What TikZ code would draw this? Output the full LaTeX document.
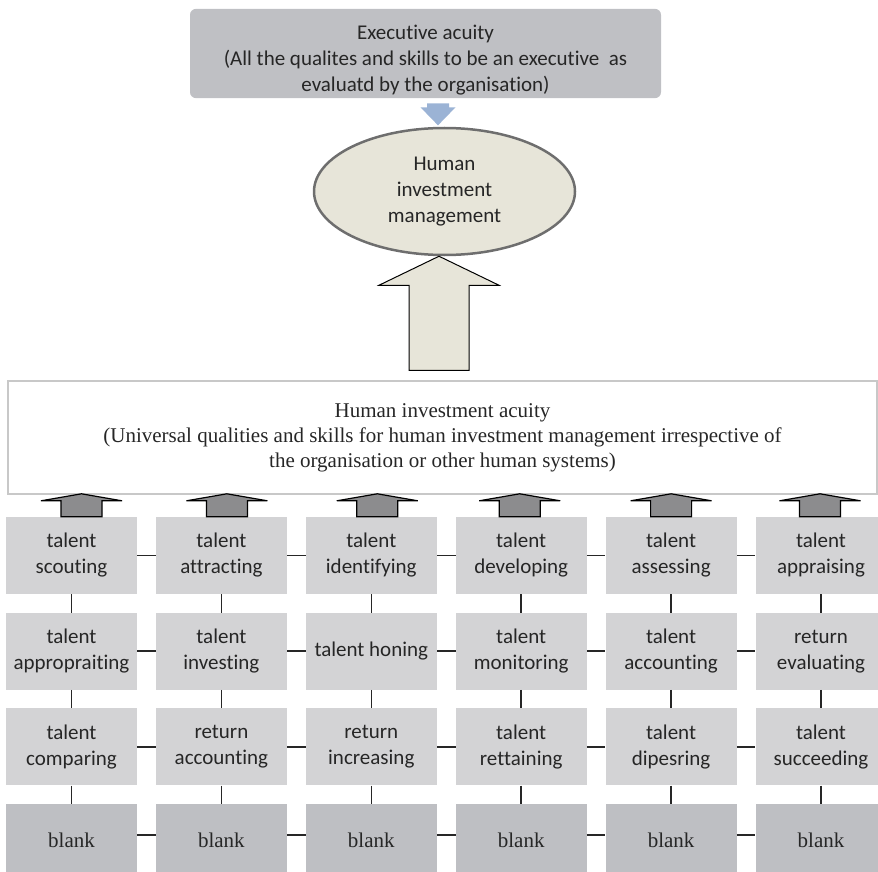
\documentclass[tikz,border=0pt]{standalone}
\usepackage{fontspec}
\setmainfont{Carlito}[Ligatures=NoCommon]
\newfontfamily\timesfont{Liberation Serif}
\usetikzlibrary{positioning,shapes.geometric}

\definecolor{execgray}{RGB}{191,192,196}
\definecolor{inkgray}{RGB}{38,38,38}
\definecolor{beige}{RGB}{231,229,217}
\definecolor{rimgray}{RGB}{110,110,110}
\definecolor{boxgray}{RGB}{211,211,213}
\definecolor{blankgray}{RGB}{190,191,195}
\definecolor{arrgray}{RGB}{140,140,142}
\definecolor{framegray}{RGB}{200,200,200}
\definecolor{steelblue}{RGB}{155,179,213}

\begin{document}
\begin{tikzpicture}[x=1pt, y=-1pt, node distance=18.3pt and 18.5pt, font=\fontsize{21}{26}\selectfont]
    \tikzset{
      exec/.style = {rectangle, rounded corners=6pt, minimum width=471pt, minimum height=89pt, align=center, fill=execgray, text=inkgray},
      mgmt/.style = {ellipse, minimum width=261pt, minimum height=127pt, inner sep=0pt, align=center, fill=beige, draw=rimgray, line width=2.5pt, text=inkgray},
      acuity/.style = {rectangle, minimum width=869pt, minimum height=113pt, align=center, draw=framegray, line width=1.2pt, text=inkgray, font=\timesfont\fontsize{21}{25}\selectfont},
      talent/.style = {rectangle, minimum width=131pt, minimum height=77pt, inner sep=2pt, align=center, fill=boxgray, text=inkgray},
      blankbox/.style = {rectangle, minimum width=131pt, minimum height=72pt, align=center, fill=blankgray, text=inkgray, font=\timesfont\fontsize{21}{26}\selectfont},
      link/.style = {draw=inkgray, line width=1.6pt},
      uparr/.pic = {\draw[fill=arrgray, draw=black, line width=1.2pt] (-20.5,0) -- (-20.5,-16) -- (-40.5,-16) -- (0,-23) -- (40.5,-16) -- (20.5,-16) -- (20.5,0) -- cycle;},
      downarr/.pic = {\fill[steelblue] (-11,5) -- (11,5) -- (11,9) -- (17.5,9) -- (0,27) -- (-17.5,9) -- (-11,9) -- cycle;},
      bigarr/.pic = {\draw[fill=beige, draw=black, line width=1pt] (0,0) -- (60,29) -- (30,29) -- (30,114) -- (-30,114) -- (-30,29) -- (-60,29) -- cycle;}
    }
    \useasboundingbox (0,0) rectangle (878,872);

    \node (exec) [exec] at (425.5,53.5) {\rule{0pt}{27pt}Executive acuity\\(All the qualites and skills to be an executive \ as\\evaluatd by the organisation)};
    \node (him) [mgmt] at (444.5,191.5) {Human\\investment\\management};
    \node (hia) [acuity] at (442.5,437.5) {Human investment acuity\\(Universal qualities and skills for human investment management irrespective of\\the organisation or other human systems)};

    % first row
    \node (scouting) [talent] at (71.5,555.5) {talent\\scouting};
    \node (attracting) [talent, right=of scouting] {talent\\attracting};
    \node (identifying) [talent, right=of attracting] {talent\\identifying};
    \node (developing) [talent, right=of identifying] {talent\\developing};
    \node (assessing) [talent, right=of developing] {talent\\assessing};
    \node (appraising) [talent, right=of assessing] {talent\\appraising};
    % second row
    \node (appropraiting) [talent, below=of scouting] {talent\\appropraiting};
    \node (investing) [talent, below=of attracting] {talent\\investing};
    \node (honing) [talent, below=of identifying] {talent honing};
    \node (monitoring) [talent, below=of developing] {talent\\monitoring};
    \node (accounting) [talent, below=of assessing] {talent\\accounting};
    \node (evaluating) [talent, below=of appraising] {return\\evaluating};
    % third row
    \node (comparing) [talent, below=of appropraiting] {talent\\comparing};
    \node (ret_accounting) [talent, below=of investing] {return\\accounting};
    \node (increasing) [talent, below=of honing] {return\\increasing};
    \node (rettaining) [talent, below=of monitoring] {talent\\rettaining};
    \node (dipesring) [talent, below=of accounting] {talent\\dipesring};
    \node (succeeding) [talent, below=of evaluating] {talent\\succeeding};
    % blank row
    \node (blank1) [blankbox, below=of comparing] {blank};
    \node (blank2) [blankbox, below=of ret_accounting] {blank};
    \node (blank3) [blankbox, below=of increasing] {blank};
    \node (blank4) [blankbox, below=of rettaining] {blank};
    \node (blank5) [blankbox, below=of dipesring] {blank};
    \node (blank6) [blankbox, below=of succeeding] {blank};

    \pic at ([xshift=12.5pt]exec.south) {downarr};
    \pic at ([xshift=-5.5pt]him.south) {bigarr};
    \pic at ([xshift=10pt]scouting.north) {uparr};
    \pic at ([xshift=5.5pt]attracting.north) {uparr};
    \pic at ([xshift=6pt]identifying.north) {uparr};
    \pic at ([xshift=-1.5pt]developing.north) {uparr};
    \pic at (assessing.north) {uparr};
    \pic at ([xshift=-1pt]appraising.north) {uparr};

    \draw [link] (scouting) -- (attracting);
    \draw [link] (attracting) -- (identifying);
    \draw [link] (identifying) -- (developing);
    \draw [link] (developing) -- (assessing);
    \draw [link] (assessing) -- (appraising);
    \draw [link] (appropraiting) -- (investing);
    \draw [link] (investing) -- (honing);
    \draw [link] (honing) -- (monitoring);
    \draw [link] (monitoring) -- (accounting);
    \draw [link] (accounting) -- (evaluating);
    \draw [link] (comparing) -- (ret_accounting);
    \draw [link] (ret_accounting) -- (increasing);
    \draw [link] (increasing) -- (rettaining);
    \draw [link] (rettaining) -- (dipesring);
    \draw [link] (dipesring) -- (succeeding);
    \draw [link] ([yshift=5pt]blank1.east) -- ([yshift=5pt]blank2.west);
    \draw [link] ([yshift=5pt]blank2.east) -- ([yshift=5pt]blank3.west);
    \draw [link] ([yshift=5pt]blank3.east) -- ([yshift=5pt]blank4.west);
    \draw [link] ([yshift=5pt]blank4.east) -- ([yshift=5pt]blank5.west);
    \draw [link] ([yshift=5pt]blank5.east) -- ([yshift=5pt]blank6.west);
    \draw [link] (scouting) -- (appropraiting);
    \draw [link] (appropraiting) -- (comparing);
    \draw [link] (comparing) -- (blank1);
    \draw [link] (attracting) -- (investing);
    \draw [link] (investing) -- (ret_accounting);
    \draw [link] (ret_accounting) -- (blank2);
    \draw [link] (identifying) -- (honing);
    \draw [link] (honing) -- (increasing);
    \draw [link] (increasing) -- (blank3);
    \draw [link] (developing) -- (monitoring);
    \draw [link] (monitoring) -- (rettaining);
    \draw [link] (rettaining) -- (blank4);
    \draw [link] (assessing) -- (accounting);
    \draw [link] (accounting) -- (dipesring);
    \draw [link] (dipesring) -- (blank5);
    \draw [link] (appraising) -- (evaluating);
    \draw [link] (evaluating) -- (succeeding);
    \draw [link] (succeeding) -- (blank6);
\end{tikzpicture}
\end{document}
